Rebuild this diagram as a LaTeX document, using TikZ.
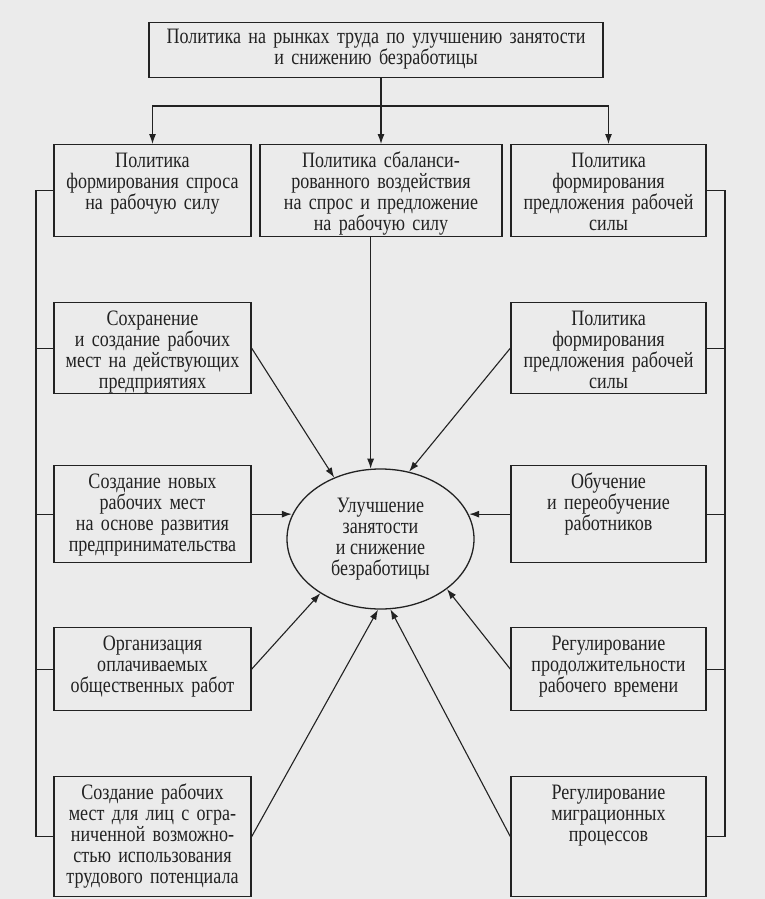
\documentclass[tikz,border=0pt]{standalone}
\usepackage{fontspec}
\setmainfont{Liberation Serif}[FakeStretch=0.82]
\usepackage{xcolor}
\usepackage{tikz}
\usetikzlibrary{arrows.meta,shapes.geometric}
\definecolor{scanbg}{HTML}{EBEBEB}
\definecolor{inkgrey}{HTML}{222222}

\begin{document}
\begin{tikzpicture}[
    x=1pt, y=-1pt,
    font=\fontsize{22}{21}\selectfont, color=inkgrey,
    box/.style={draw=inkgrey, line width=1.3pt, anchor=north, align=center, inner xsep=0pt, inner ysep=0pt, text height=23pt},
    link/.style={draw=inkgrey, line width=1.1pt},
    arr/.style={link, -{Latex[length=10pt, width=7pt]}}
]
\useasboundingbox (0,0) rectangle (765,899);
\fill[scanbg] (0,0) rectangle (765,899);

% Top
\node[box, text width=454pt, text height=21pt, text depth=34pt] (top) at (376,22)
    {Политика на рынках труда по улучшению занятости\\и снижению безработицы};

% First row
\node[box, text width=197pt, text depth=69pt] (demand) at (152.5,144)
    {Политика\\формирования спроса\\на рабочую силу};
\node[box, text width=242pt, text depth=69pt] (balance) at (381,144)
    {Политика сбаланси-\\рованного воздействия\\на спрос и предложение\\на рабочую силу};
\node[box, text width=195pt, text depth=69pt] (supply) at (608.5,144)
    {Политика\\формирования\\предложения рабочей\\силы};

% Left column
\node[box, text width=197pt, text depth=68pt] (keep) at (152.5,302)
    {Сохранение\\и создание рабочих\\мест на действующих\\предприятиях};
\node[box, text width=197pt, text depth=74pt] (newjobs) at (152.5,465)
    {Создание новых\\рабочих мест\\на основе развития\\предпринимательства};
\node[box, text width=197pt, text depth=60pt] (public) at (152.5,627)
    {Организация\\оплачиваемых\\общественных работ};
\node[box, text width=197pt, text depth=97pt] (limited) at (152.5,776)
    {Создание рабочих\\мест для лиц с огра-\\ниченной возможно-\\стью использования\\трудового потенциала};

% Right column
\node[box, text width=195pt, text depth=68pt] (supply2) at (608.5,302)
    {Политика\\формирования\\предложения рабочей\\силы};
\node[box, text width=195pt, text depth=74pt] (training) at (608.5,465)
    {Обучение\\и переобучение\\работников};
\node[box, text width=195pt, text depth=60pt] (worktime) at (608.5,627)
    {Регулирование\\продолжительности\\рабочего времени};
\node[box, text width=195pt, text depth=97pt] (migration) at (608.5,776)
    {Регулирование\\миграционных\\процессов};

% Goal
\node[ellipse, draw=inkgrey, line width=1.3pt, minimum width=187pt, minimum height=140pt, inner sep=0pt, align=center] (goal) at (380.5,539)
    {Улучшение\\занятости\\и снижение\\безработицы};

% From the top box
\coordinate (split) at (381,106);
\draw[link] (split |- top.south) -- (split);
\draw[arr] (split) -| (demand.north);
\draw[arr] (split) -- (balance.north);
\draw[arr] (split) -| (supply.north);

% Into the goal
\draw[arr] (balance.south -| goal.98) -- (goal.98);
\draw[arr] (keep.east) -- (goal.127);
\draw[arr] (supply2.west) -- (goal.67);
\draw[arr] (newjobs.east) -- (newjobs.east -| goal.165);
\draw[arr] (training.west) -- (training.west -| goal.15);
\draw[arr] (public.east) -- (goal.222);
\draw[arr] (limited.east) -- (goal.268);
\draw[arr] (migration.west) -- (goal.278);
\draw[arr] (worktime.west) -- (goal.323);

% Side brackets
\coordinate (lbar) at (36,0);
\coordinate (rbar) at (725,0);
\draw[link] (demand.west) -- (demand.west -| lbar) -- (limited.west -| lbar) -- (limited.west);
\foreach \n in {keep,newjobs,public}
    \draw[link] (\n.west) -- (\n.west -| lbar);
\draw[link] (supply.east) -- (supply.east -| rbar) -- (migration.east -| rbar) -- (migration.east);
\foreach \n in {supply2,training,worktime}
    \draw[link] (\n.east) -- (\n.east -| rbar);
\end{tikzpicture}
\end{document}
